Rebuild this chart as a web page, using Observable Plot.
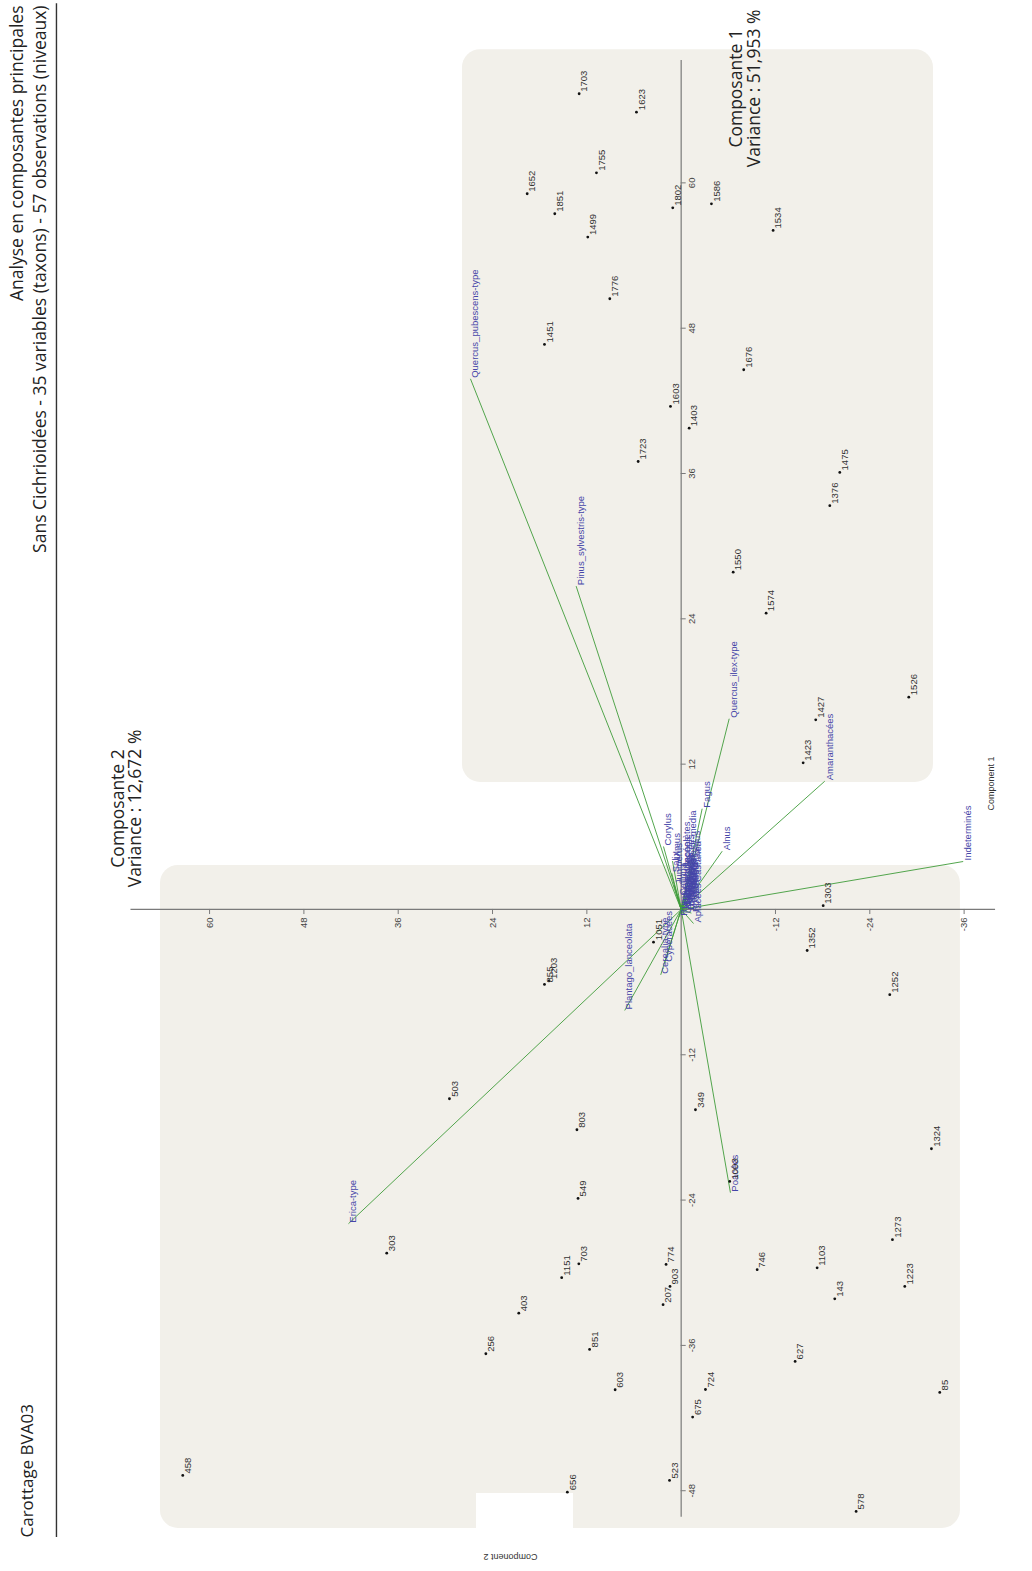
<!DOCTYPE html>
<html>
<head>
<meta charset="utf-8">
<script src="https://cdn.jsdelivr.net/npm/d3@7"></script>
<script src="https://cdn.jsdelivr.net/npm/@observablehq/plot@0.6"></script>
<style>
  html, body { margin: 0; padding: 0; background: #fff; overflow: hidden; }
  #chart svg { display: block; }
</style>
</head>
<body>
<div id="chart"></div>
<script>
// ---------- Observations (niveaux) ----------
const obsLabels = ["1703","1623","1755","1652","1851","1499","1802","1586","1534","1776",
  "1451","1676","1603","1403","1723","1475","1376","1550","1574","1526",
  "1427","1423","1303","1352","1252","349","1324","1003","1273","746",
  "1103","1223","143","627","724","675","85","578","503","855",
  "1203","803","549","1051","303","1151","703","774","903","207",
  "403","256","851","603","458","656","523"];
const obsComp1 = [67.36,65.84,60.83,59.10,57.45,55.52,57.94,58.27,56.07,50.43,
  46.66,44.57,41.54,39.74,36.99,36.09,33.34,27.85,24.47,17.53,
  15.66,12.11,0.31,-3.39,-7.04,-16.54,-19.76,-22.46,-27.27,-29.75,
  -29.59,-31.13,-32.15,-37.32,-39.64,-41.92,-39.88,-49.71,-15.63,-6.19,
  -5.90,-18.19,-23.86,-2.70,-28.38,-30.41,-29.26,-29.31,-31.13,-32.64,
  -33.34,-36.69,-36.33,-39.66,-46.74,-48.12,-47.15];
const obsComp2 = [12.98,5.69,10.78,19.59,16.08,11.88,1.07,-3.85,-11.70,9.08,
  17.39,-7.96,1.36,-1.02,5.47,-20.18,-18.91,-6.62,-10.81,-28.96,
  -17.12,-15.52,-18.07,-16.03,-26.54,-1.82,-31.84,-6.18,-26.88,-9.67,
  -17.30,-28.45,-19.54,-14.50,-3.09,-1.46,-32.90,-22.26,29.48,17.39,
  16.82,13.26,13.12,3.52,37.46,15.20,13.02,1.92,1.42,2.30,
  20.66,24.85,11.65,8.40,63.41,14.48,1.48];

// ---------- Variables (taxons) : loadings ----------
const varNames = ["Quercus_pubescens-type","Pinus_sylvestris-type","Quercus_ilex-type","Amaranthacées",
  "Fagus","Alnus","Indeterminés","Poacées","Erica-type","Plantago_lanceolata","Corylus","Cyperacées",
  "Cerealia-type","Apiacées",
  "Abies","Acer","Artemisia","Asteroidées","Betula","Brassicacées","Calluna","Carpinus",
  "Caryophyllacées","Castanea","Fabacées","Fraxinus","Juniperus","Olea","Ranunculacées","Rosacées",
  "Rumex","Salix","Ulmus","Urtica","Filicales_monolètes","Plantago_major-media"];
const varComp1 = [43.82,26.70,15.75,10.59,8.32,4.81,3.96,-23.39,-25.95,-8.34,5.2,-4.4,
  -5.4,-1.16,
  0.6,0.2,0.9,0.4,1.6,-0.1,1.1,1.3,0.1,2.2,0.5,3.4,2.0,1.0,0.7,-0.3,-0.6,3.0,4.0,-0.4,0.3,0.2];
const varComp2 = [26.81,13.36,-6.11,-18.27,-2.67,-5.22,-35.88,-6.27,42.33,7.18,2.25,2.1,
  2.6,-1.57,
  -0.2,-0.5,-0.9,-0.3,-1.2,-0.6,0.4,-0.8,-0.1,-1.6,-1.0,-1.4,0.9,-0.4,-0.7,-1.3,0.2,1.2,1.1,-0.3,-0.1,-0.9];

// ---------- Axis ticks ----------
const ticksComp1 = [60,48,36,24,12,-12,-24,-36,-48];
const ticksComp2 = [60,48,36,24,12,-12,-24,-36];
const axisComp1Extent = [70.1, -50.2];
const axisComp2Extent = [70.0, -40.0];

// ---------- Texts ----------
const titleLines = ["Analyse en composantes principales", "Sans Cichrioidées - 35 variables (taxons) - 57 observations (niveaux)"];
const coreLabel = "Carottage BVA03";
const compTitles = [
  {text: "Composante 1\nVariance : 51,953 %", c2: -8.18, c1: 67.8},
  {text: "Composante 2\nVariance : 12,672 %", c2: 70.5, c1: 8.34}
];
const axisTitles = [
  {text: "Component 1", c2: -39.48, c1: 10.4, rot: -90},
  {text: "Component 2", c2: 21.72, c1: -53.43, rot: 180}
];

// ---------- Highlight panels (data coordinates) ----------
const panels = [
  {c2a: 27.82, c2b: -32.1, c1a: 71.0, c1b: 10.49, fill: "#f2f0ea"},
  {c2a: 66.25, c2b: -35.53, c1a: 3.63, c1b: -51.11, fill: "#f2f0ea"}
];
const notch = [{c2a: 26.04, c2b: 13.7, c1a: -48.23, c1b: -51.6}];
const headerRule = [{c2: 79.48, c1a: 74.8, c1b: -51.86}];

const obs = obsLabels.map((id, i) => ({id, c1: obsComp1[i], c2: obsComp2[i]}));
const vars = varNames.map((name, i) => ({name, c1: varComp1[i], c2: varComp2[i]}));

const small = "Liberation Sans, Arial, sans-serif";
const big = "Open Sans, sans-serif";

const chart = Plot.plot({
  width: 1032,
  height: 1571,
  margin: 0,
  x: {domain: [86.6, -44.7], axis: null},
  y: {domain: [-54.67, 75.06], axis: null},
  style: {background: "#fff"},
  marks: [
    // panels
    Plot.rect(panels, {x1: "c2a", x2: "c2b", y1: "c1a", y2: "c1b", fill: "fill", rx: 18}),
    Plot.rect(notch, {x1: "c2a", x2: "c2b", y1: "c1a", y2: "c1b", fill: "#ffffff"}),
    // header rule
    Plot.ruleX(headerRule, {x: "c2", y1: "c1a", y2: "c1b", stroke: "#333", strokeWidth: 1.4}),
    // axes through origin
    Plot.ruleY([0], {x1: axisComp2Extent[0], x2: axisComp2Extent[1], stroke: "#7a7a7a", strokeWidth: 1.2}),
    Plot.ruleX([0], {y1: axisComp1Extent[0], y2: axisComp1Extent[1], stroke: "#7a7a7a", strokeWidth: 1.2}),
    Plot.ruleX(ticksComp2, {x: d => d, y1: 0, y2: -0.42, stroke: "#7a7a7a"}),
    Plot.ruleY(ticksComp1, {y: d => d, x1: 0, x2: -0.64, stroke: "#7a7a7a"}),
    Plot.text(ticksComp2, {x: d => d, y: 0, dy: 8, text: d => String(d), rotate: -90,
      textAnchor: "end", lineAnchor: "middle", fontSize: 9.5, fontFamily: small, fill: "#444"}),
    Plot.text(ticksComp1, {x: 0, y: d => d, dx: 7, text: d => String(d), rotate: -90,
      textAnchor: "middle", lineAnchor: "top", fontSize: 9.5, fontFamily: small, fill: "#444"}),
    // loadings
    Plot.link(vars, {x1: () => 0, y1: () => 0, x2: "c2", y2: "c1", stroke: "#3f9c3a", strokeWidth: 0.9}),
    Plot.text(vars, {x: "c2", y: "c1", text: "name", rotate: -90, textAnchor: "start", lineAnchor: "top",
      dx: 1, dy: -1, fontSize: 9.5, fontFamily: small, fill: "#4545a8"}),
    // observations
    Plot.dot(obs, {x: "c2", y: "c1", r: 1.4, fill: "#111", stroke: "none"}),
    Plot.text(obs, {x: "c2", y: "c1", text: "id", rotate: -90, textAnchor: "start", lineAnchor: "top",
      dx: 1.5, dy: -2, fontSize: 9.5, fontFamily: small, fill: "#333"}),
    // composante titles
    Plot.text(compTitles, {x: "c2", y: "c1", text: "text", rotate: -90, textAnchor: "middle",
      lineAnchor: "middle", lineHeight: 1.0, fontSize: 17.5, fontFamily: big, fill: "#222"}),
    // axis titles
    Plot.text(axisTitles, {x: "c2", y: "c1", text: "text", rotate: "rot", textAnchor: "middle",
      lineAnchor: "middle", fontSize: 9, fontFamily: small, fill: "#333"}),
    // header
    Plot.text([titleLines.join("\n")], {frameAnchor: "top-left", dx: 27, dy: 5, rotate: -90,
      textAnchor: "end", lineAnchor: "middle", lineHeight: 1.3, fontSize: 17.5, fontFamily: big, fill: "#222"}),
    Plot.text([coreLabel], {frameAnchor: "bottom-left", dx: 27, dy: -34, rotate: -90,
      textAnchor: "start", lineAnchor: "middle", fontSize: 17, fontFamily: big, fill: "#222"})
  ]
});
document.getElementById("chart").appendChild(chart);
</script>
</body>
</html>
